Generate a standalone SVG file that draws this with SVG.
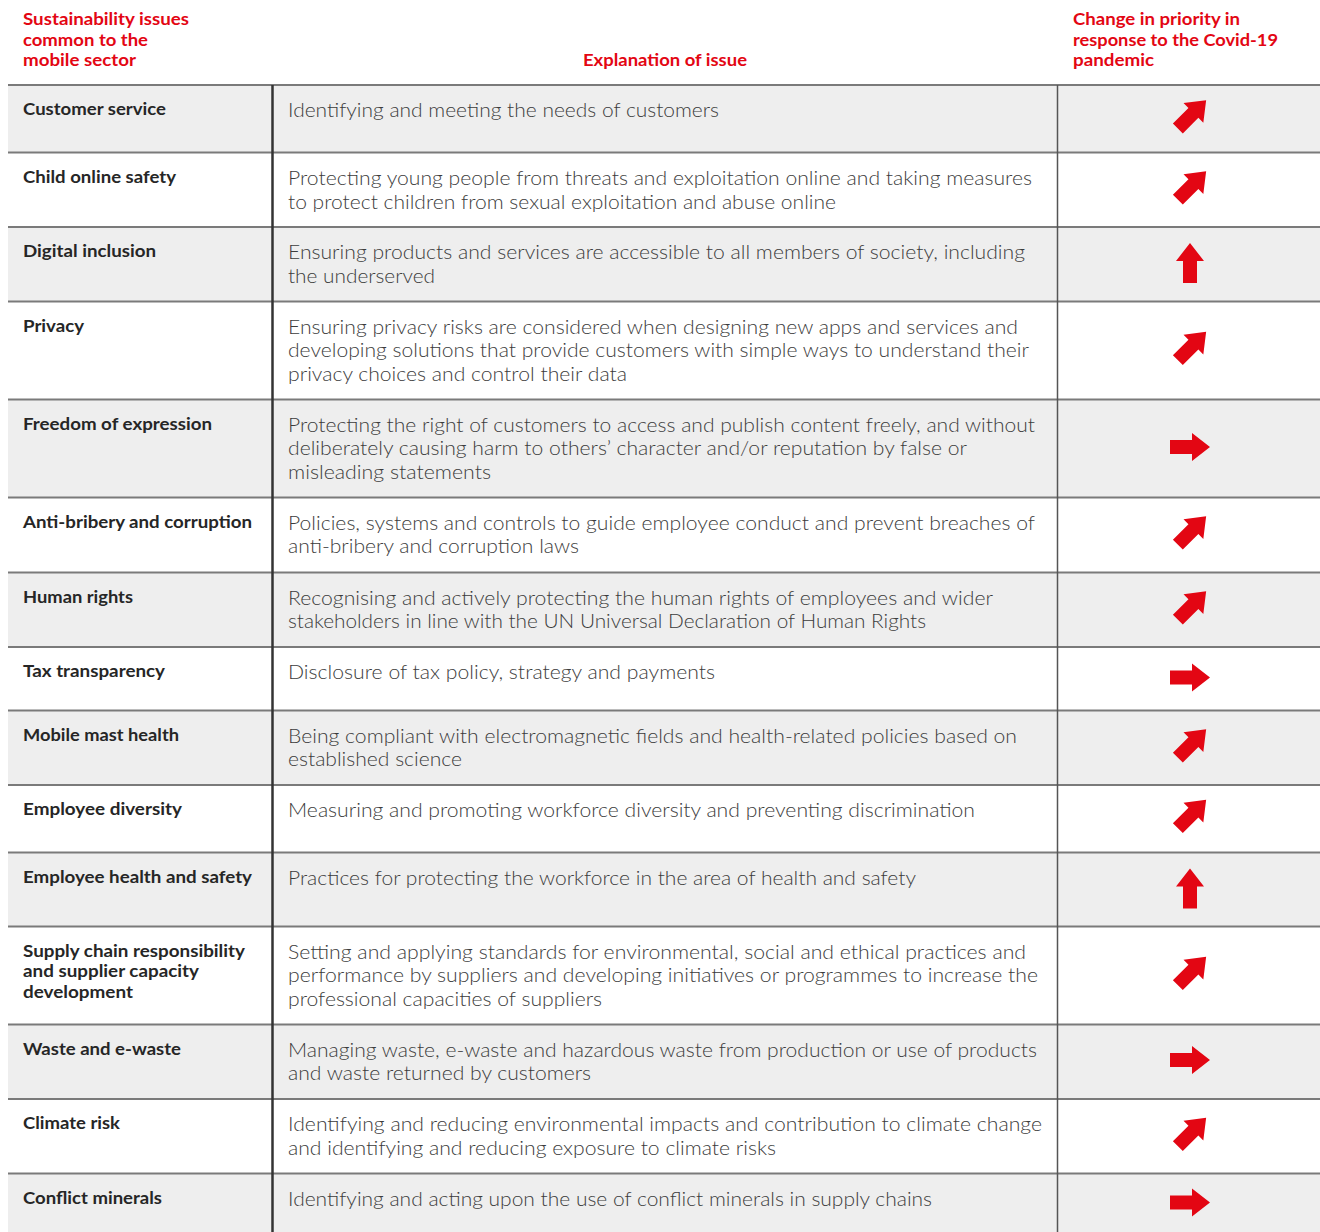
<svg xmlns="http://www.w3.org/2000/svg" width="1320" height="1232" viewBox="0 0 1320 1232">
<style>
.bg{fill:#eeeeee}
.hd{font-family:Lato,"Liberation Sans",sans-serif;font-weight:700;font-size:17px;fill:#e30613}
.lb{font-family:Lato,"Liberation Sans",sans-serif;font-weight:700;font-size:17px;fill:#262626}
.ex{font-family:Lato,"Open Sans","Liberation Sans",sans-serif;font-weight:300;font-size:19px;fill:#3c3c3c}
.ar{fill:#e30613}
.hl{stroke:#7a7a7a;stroke-width:2;fill:none}
</style>
<defs>
<path id="arr" d="M0,-20 L14,-2 L7,-2 L7,20 L-7,20 L-7,-2 L-14,-2 Z"/>
</defs>
<rect width="1320" height="1232" fill="#ffffff"/>

<g id="header">
<text class="hd" x="23" y="25" textLength="166" lengthAdjust="spacingAndGlyphs">Sustainability issues</text>
<text class="hd" x="23" y="45.5" textLength="125" lengthAdjust="spacingAndGlyphs">common to the</text>
<text class="hd" x="23" y="66" textLength="113" lengthAdjust="spacingAndGlyphs">mobile sector</text>
<text class="hd" x="583" y="66" textLength="164" lengthAdjust="spacingAndGlyphs">Explanation of issue</text>
<text class="hd" x="1073" y="25" textLength="167" lengthAdjust="spacingAndGlyphs">Change in priority in</text>
<text class="hd" x="1073" y="45.5" textLength="205" lengthAdjust="spacingAndGlyphs">response to the Covid-19</text>
<text class="hd" x="1073" y="66" textLength="81" lengthAdjust="spacingAndGlyphs">pandemic</text>
</g>

<g id="row-customer-service">
<rect class="bg" x="8" y="85" width="1312" height="67.5"/>
<text class="lb" x="23" y="115" textLength="143" lengthAdjust="spacingAndGlyphs">Customer service</text>
<text class="ex" x="288" y="117" textLength="431" lengthAdjust="spacingAndGlyphs">Identifying and meeting the needs of customers</text>
<use href="#arr" class="ar" transform="translate(1192,114.3) rotate(45)"/>
</g>

<g id="row-child-online-safety">
<text class="lb" x="23" y="183" textLength="153" lengthAdjust="spacingAndGlyphs">Child online safety</text>
<text class="ex" x="288" y="185" textLength="744" lengthAdjust="spacingAndGlyphs">Protecting young people from threats and exploitation online and taking measures</text>
<text class="ex" x="288" y="208.5" textLength="548" lengthAdjust="spacingAndGlyphs">to protect children from sexual exploitation and abuse online</text>
<use href="#arr" class="ar" transform="translate(1192,185.5) rotate(45)"/>
</g>

<g id="row-digital-inclusion">
<rect class="bg" x="8" y="227" width="1312" height="74.5"/>
<text class="lb" x="23" y="257" textLength="133" lengthAdjust="spacingAndGlyphs">Digital inclusion</text>
<text class="ex" x="288" y="259" textLength="737" lengthAdjust="spacingAndGlyphs">Ensuring products and services are accessible to all members of society, including</text>
<text class="ex" x="288" y="282.5" textLength="147" lengthAdjust="spacingAndGlyphs">the underserved</text>
<use href="#arr" class="ar" transform="translate(1190,263)"/>
</g>

<g id="row-privacy">
<text class="lb" x="23" y="331.5" textLength="61" lengthAdjust="spacingAndGlyphs">Privacy</text>
<text class="ex" x="288" y="333.5" textLength="730" lengthAdjust="spacingAndGlyphs">Ensuring privacy risks are considered when designing new apps and services and</text>
<text class="ex" x="288" y="357" textLength="741" lengthAdjust="spacingAndGlyphs">developing solutions that provide customers with simple ways to understand their</text>
<text class="ex" x="288" y="380.5" textLength="339" lengthAdjust="spacingAndGlyphs">privacy choices and control their data</text>
<use href="#arr" class="ar" transform="translate(1192,346) rotate(45)"/>
</g>

<g id="row-freedom-of-expression">
<rect class="bg" x="8" y="399.5" width="1312" height="98"/>
<text class="lb" x="23" y="429.5" textLength="189" lengthAdjust="spacingAndGlyphs">Freedom of expression</text>
<text class="ex" x="288" y="431.5" textLength="747" lengthAdjust="spacingAndGlyphs">Protecting the right of customers to access and publish content freely, and without</text>
<text class="ex" x="288" y="455" textLength="679" lengthAdjust="spacingAndGlyphs">deliberately causing harm to others’ character and/or reputation by false or</text>
<text class="ex" x="288" y="478.5" textLength="203" lengthAdjust="spacingAndGlyphs">misleading statements</text>
<use href="#arr" class="ar" transform="translate(1190,447) rotate(90)"/>
</g>

<g id="row-anti-bribery">
<text class="lb" x="23" y="527.5" textLength="229" lengthAdjust="spacingAndGlyphs">Anti-bribery and corruption</text>
<text class="ex" x="288" y="529.5" textLength="747" lengthAdjust="spacingAndGlyphs">Policies, systems and controls to guide employee conduct and prevent breaches of</text>
<text class="ex" x="288" y="553" textLength="291" lengthAdjust="spacingAndGlyphs">anti-bribery and corruption laws</text>
<use href="#arr" class="ar" transform="translate(1192,530.5) rotate(45)"/>
</g>

<g id="row-human-rights">
<rect class="bg" x="8" y="572.5" width="1312" height="74.5"/>
<text class="lb" x="23" y="602.5" textLength="110" lengthAdjust="spacingAndGlyphs">Human rights</text>
<text class="ex" x="288" y="604.5" textLength="705" lengthAdjust="spacingAndGlyphs">Recognising and actively protecting the human rights of employees and wider</text>
<text class="ex" x="288" y="628" textLength="638" lengthAdjust="spacingAndGlyphs">stakeholders in line with the UN Universal Declaration of Human Rights</text>
<use href="#arr" class="ar" transform="translate(1192,605.5) rotate(45)"/>
</g>

<g id="row-tax-transparency">
<text class="lb" x="23" y="677" textLength="142" lengthAdjust="spacingAndGlyphs">Tax transparency</text>
<text class="ex" x="288" y="679" textLength="427" lengthAdjust="spacingAndGlyphs">Disclosure of tax policy, strategy and payments</text>
<use href="#arr" class="ar" transform="translate(1190,677.5) rotate(90)"/>
</g>

<g id="row-mobile-mast-health">
<rect class="bg" x="8" y="710.5" width="1312" height="74.5"/>
<text class="lb" x="23" y="740.5" textLength="156" lengthAdjust="spacingAndGlyphs">Mobile mast health</text>
<text class="ex" x="288" y="742.5" textLength="729" lengthAdjust="spacingAndGlyphs">Being compliant with electromagnetic fields and health-related policies based on</text>
<text class="ex" x="288" y="766" textLength="174" lengthAdjust="spacingAndGlyphs">established science</text>
<use href="#arr" class="ar" transform="translate(1192,743.5) rotate(45)"/>
</g>

<g id="row-employee-diversity">
<text class="lb" x="23" y="815" textLength="159" lengthAdjust="spacingAndGlyphs">Employee diversity</text>
<text class="ex" x="288" y="817" textLength="687" lengthAdjust="spacingAndGlyphs">Measuring and promoting workforce diversity and preventing discrimination</text>
<use href="#arr" class="ar" transform="translate(1192,814) rotate(45)"/>
</g>

<g id="row-employee-health-safety">
<rect class="bg" x="8" y="852.5" width="1312" height="74"/>
<text class="lb" x="23" y="882.5" textLength="229" lengthAdjust="spacingAndGlyphs">Employee health and safety</text>
<text class="ex" x="288" y="884.5" textLength="628" lengthAdjust="spacingAndGlyphs">Practices for protecting the workforce in the area of health and safety</text>
<use href="#arr" class="ar" transform="translate(1190,888.5)"/>
</g>

<g id="row-supply-chain">
<text class="lb" x="23" y="956.5" textLength="222" lengthAdjust="spacingAndGlyphs">Supply chain responsibility</text>
<text class="lb" x="23" y="977" textLength="176" lengthAdjust="spacingAndGlyphs">and supplier capacity</text>
<text class="lb" x="23" y="997.5" textLength="110" lengthAdjust="spacingAndGlyphs">development</text>
<text class="ex" x="288" y="958.5" textLength="738" lengthAdjust="spacingAndGlyphs">Setting and applying standards for environmental, social and ethical practices and</text>
<text class="ex" x="288" y="982" textLength="750" lengthAdjust="spacingAndGlyphs">performance by suppliers and developing initiatives or programmes to increase the</text>
<text class="ex" x="288" y="1005.5" textLength="314" lengthAdjust="spacingAndGlyphs">professional capacities of suppliers</text>
<use href="#arr" class="ar" transform="translate(1192,971) rotate(45)"/>
</g>

<g id="row-waste">
<rect class="bg" x="8" y="1024.5" width="1312" height="74.5"/>
<text class="lb" x="23" y="1054.5" textLength="158" lengthAdjust="spacingAndGlyphs">Waste and e-waste</text>
<text class="ex" x="288" y="1056.5" textLength="749" lengthAdjust="spacingAndGlyphs">Managing waste, e-waste and hazardous waste from production or use of products</text>
<text class="ex" x="288" y="1080" textLength="303" lengthAdjust="spacingAndGlyphs">and waste returned by customers</text>
<use href="#arr" class="ar" transform="translate(1190,1060) rotate(90)"/>
</g>

<g id="row-climate-risk">
<text class="lb" x="23" y="1129" textLength="97" lengthAdjust="spacingAndGlyphs">Climate risk</text>
<text class="ex" x="288" y="1131" textLength="754" lengthAdjust="spacingAndGlyphs">Identifying and reducing environmental impacts and contribution to climate change</text>
<text class="ex" x="288" y="1154.5" textLength="488" lengthAdjust="spacingAndGlyphs">and identifying and reducing exposure to climate risks</text>
<use href="#arr" class="ar" transform="translate(1192,1132) rotate(45)"/>
</g>

<g id="row-conflict-minerals">
<rect class="bg" x="8" y="1173.5" width="1312" height="58.5"/>
<text class="lb" x="23" y="1203.5" textLength="139" lengthAdjust="spacingAndGlyphs">Conflict minerals</text>
<text class="ex" x="288" y="1205.5" textLength="644" lengthAdjust="spacingAndGlyphs">Identifying and acting upon the use of conflict minerals in supply chains</text>
<use href="#arr" class="ar" transform="translate(1190,1202.5) rotate(90)"/>
</g>

<g id="connectors">
<path class="hl" d="M8,85H1320M8,152.5H1320M8,227H1320M8,301.5H1320M8,399.5H1320M8,497.5H1320M8,572.5H1320M8,647H1320M8,710.5H1320M8,785H1320M8,852.5H1320M8,926.5H1320M8,1024.5H1320M8,1099H1320M8,1173.5H1320"/>
<line x1="272.5" y1="85" x2="272.5" y2="1232" stroke="#333333" stroke-width="2.5"/>
<line x1="1057.5" y1="85" x2="1057.5" y2="1232" stroke="#555555" stroke-width="1.5"/>
</g>
</svg>
